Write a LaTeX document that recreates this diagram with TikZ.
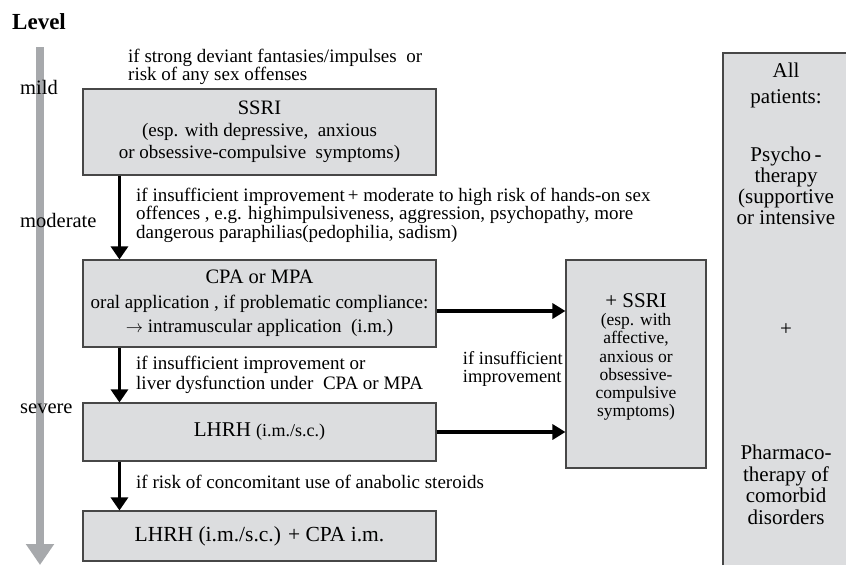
\documentclass[tikz,border=0pt]{standalone}
\usepackage{fontspec}
\setmainfont{Liberation Serif}
\usetikzlibrary{arrows.meta}
\definecolor{boxfill}{HTML}{DCDDDF}
\definecolor{boxline}{HTML}{474747}
\definecolor{levelgray}{HTML}{A7A9AC}
\begin{document}
\begin{tikzpicture}[x=1pt,y=-1pt,
  box/.style={draw=boxline, fill=boxfill, line width=1.1pt, inner sep=0pt, minimum width=353pt},
  lbl/.style={font=\fontsize{19}{15.5}\selectfont, align=left, inner sep=0pt, anchor=west},
  lvl/.style={font=\fontsize{20.5}{24}\selectfont, inner sep=0pt, anchor=west},
  flow/.style={line width=3pt, -{Triangle[width=17pt,length=13pt]}},
  side/.style={line width=4pt, -{Triangle[width=15pt,length=13pt]}},
  rtext/.style={align=center, inner sep=0pt},
]
\useasboundingbox (0,0) rectangle (846,565);
% level axis
\coordinate (lvtop) at (40,47);
\coordinate (lvbot) at (40,565);
\draw[levelgray, line width=8pt, -{Triangle[width=27pt,length=21pt]}] (lvtop) -- (lvbot);
\node[font=\fontsize{23}{26}\selectfont\bfseries, inner sep=0pt, anchor=west] (level) at (12,22) {Level};
\node[lvl] (mild) at (20,87) {mild};
\node[lvl] (moderate) at (20,220) {moderate};
\node[lvl] (severe) at (20,409) {severe};

% left boxes
\node[box, minimum height=86pt, align=center, font=\fontsize{19}{22}\selectfont] (ssri) at (259.5,132)
  {{\fontsize{20.5}{22}\selectfont SSRI}\\(esp. with depressive,\ \ anxious\\or obsessive-compulsive\ \ symptoms)};
\node[box, minimum height=87pt, align=center, font=\fontsize{19}{24.5}\selectfont] (cpa) at (259.5,303.5)
  {{\fontsize{20.5}{24}\selectfont CPA or MPA}\\oral application , if problematic compliance:\\$\rightarrow$ intramuscular application\ \ (i.m.)};
\node[box, minimum height=58pt, font=\fontsize{21}{24}\selectfont] (lhrh) at (259.5,432)
  {LHRH {\fontsize{18}{20}\selectfont (i.m./s.c.)}};
\node[box, minimum height=50pt, font=\fontsize{21.5}{24}\selectfont] (comb) at (259.5,536)
  {LHRH (i.m./s.c.) + CPA i.m.};

% +SSRI box
\node[box, minimum width=140pt, minimum height=208pt] (plus) at (636,364) {};
\node[rtext, font=\fontsize{17.5}{18.3}\selectfont] (plustext) at (636,357)
  {{\fontsize{21}{24}\selectfont + SSRI}\\(esp. with\\affective,\\anxious or\\obsessive-\\compulsive\\symptoms)};

% right box
\fill[boxfill] (723,53) rectangle (846,565);
\draw[boxline, line width=1.1pt] (723,565) -- (723,53) -- (846,53);
\node[rtext, font=\fontsize{21}{26}\selectfont] (all) at (786,85) {All\\patients:};
\node[rtext, font=\fontsize{21}{21}\selectfont] (psy) at (786,186)
  {Psycho\,-\\therapy\\(supportive\\or intensive};
\node[rtext, font=\fontsize{21}{24}\selectfont] (pl) at (786,330) {+};
\node[rtext, font=\fontsize{21}{21.5}\selectfont] (pharm) at (786,485)
  {Pharmaco-\\therapy of\\comorbid\\disorders};

% labels
\node[lbl] (l1) at (128,67) {if strong deviant fantasies/impulses\ \ or\\risk of any sex offenses};
\node[lbl] (l2) at (136,215) {if insufficient improvement\,+ moderate to high risk of hands-on sex\\offences , e.g. highimpulsiveness, aggression, psychopathy, more\\dangerous paraphilias(pedophilia, sadism)};
\node[lbl, font=\fontsize{19}{20}\selectfont] (l3) at (136,375) {if insufficient improvement or\\liver dysfunction under\ \ CPA or MPA};
\node[lbl] (l4) at (136,482) {if risk\ of concomitant use\ of anabolic steroids};
\node[lbl, anchor=east, font=\fontsize{18.5}{18}\selectfont] (l5) at (563,369) {if insufficient\\improvement};

% connectors
\draw[flow] ([xshift=37pt]ssri.south west) -- ([xshift=37pt]cpa.north west);
\draw[flow] ([xshift=37pt]cpa.south west) -- ([xshift=37pt]lhrh.north west);
\draw[flow] ([xshift=37pt]lhrh.south west) -- ([xshift=37pt]comb.north west);
\coordinate (a1) at ([yshift=-7.5pt]cpa.east);
\draw[side] (a1) -- (a1 -| plus.west);
\draw[side] (lhrh.east) -- (lhrh.east -| plus.west);
\end{tikzpicture}
\end{document}
